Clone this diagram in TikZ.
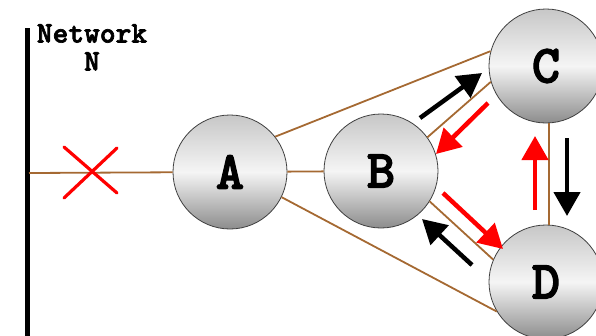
\documentclass[tikz,border=0pt]{standalone}
\usepackage{fontspec}
\newfontfamily\hostfont{lmmonolt10-bold.otf}[FakeBold=2.2]
\usetikzlibrary{arrows.meta}
\definecolor{wire}{RGB}{165,105,50}
\tikzset{
  host/.style={circle, draw=black!75, line width=0.8pt, minimum size=114pt, inner sep=0pt,
    top color=black!22, bottom color=black!45, middle color=black!4,
    font=\hostfont\fontsize{54}{54}\selectfont},
  link/.style={draw=wire, line width=1.8pt},
  flow/.style={line width=4.5pt, -{Triangle[width=26pt,length=24pt]}},
  cross/.style={draw=red, line width=3.2pt, line cap=round},
  lbl/.style={font=\hostfont\fontsize{30}{28}\selectfont, align=center, inner sep=0pt}
}
\begin{document}
\begin{tikzpicture}[x=1pt,y=-1pt]
\useasboundingbox (0,0) rectangle (596,335);
% network bar
\coordinate (bt) at (27.5,28);
\coordinate (bb) at (27.5,340);
\draw[line width=5pt] (bt) -- (bb);
\node[lbl, anchor=north] (net) at (92,24) {Network\\N};
% hosts
\node[host] (A) at (230,172) {A};
\node[host] (B) at (381,171) {B};
\node[host] (C) at (546,66) {C};
\node[host] (D) at (546,282) {D};
% links
\coordinate (nA) at (29,173);
\draw[link] (nA) -- (A);
\draw[link] (A) -- (B);
\draw[link] (A.38) -- (C.165);
\draw[link] (A.-26) -- (D.211);
\draw[link] (B.36) -- (C.196);
\draw[link] (B.-32) -- (D.157);
\draw[link] (C.-87) -- (D.87);
% broken link cross
\coordinate (x1) at (64,147);
\coordinate (x2) at (117,193);
\coordinate (x3) at (64,198);
\coordinate (x4) at (117,148);
\draw[cross] (x1) -- (x2);
\draw[cross] (x3) -- (x4);
% flow arrows
\coordinate (bc1) at (420,118);
\coordinate (bc2) at (482,73);
\draw[flow, black] (bc1) -- (bc2);
\coordinate (cb1) at (488,103);
\coordinate (cb2) at (436,154);
\draw[flow, red] (cb1) -- (cb2);
\coordinate (bd1) at (443,193);
\coordinate (bd2) at (503,249);
\draw[flow, red] (bd1) -- (bd2);
\coordinate (db1) at (472,265);
\coordinate (db2) at (422,219);
\draw[flow, black] (db1) -- (db2);
\coordinate (dc1) at (535,210);
\coordinate (dc2) at (535,136);
\draw[flow, red] (dc1) -- (dc2);
\coordinate (cd3) at (567,138);
\coordinate (cd4) at (567,216);
\draw[flow, black] (cd3) -- (cd4);
\end{tikzpicture}
\end{document}
